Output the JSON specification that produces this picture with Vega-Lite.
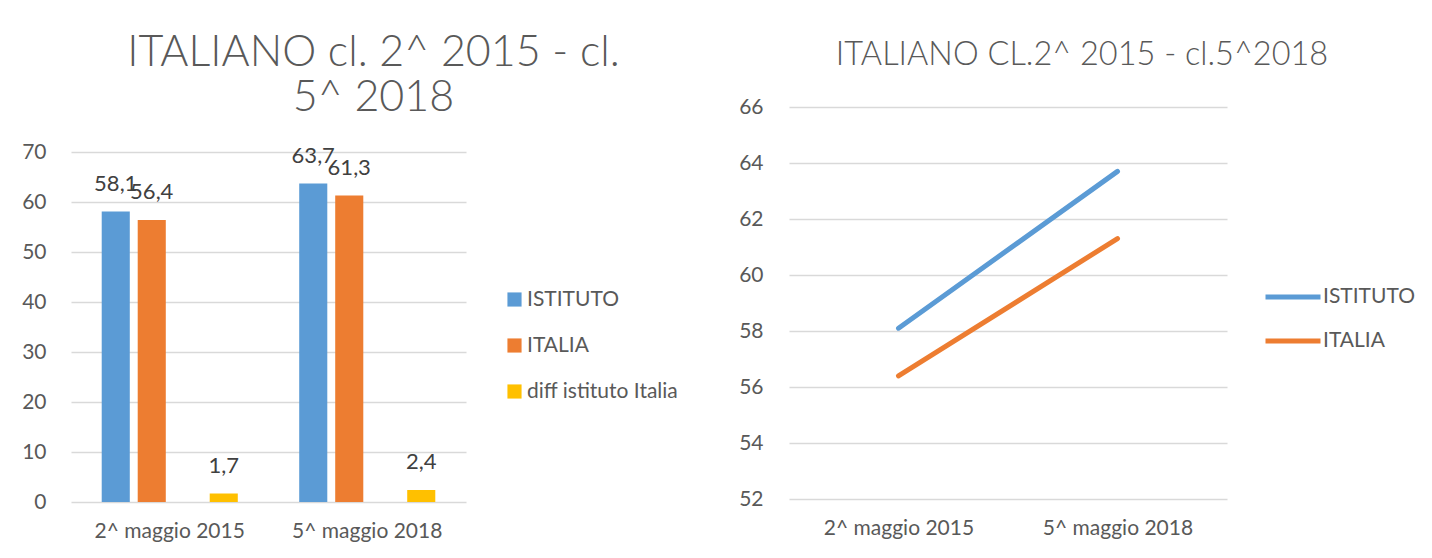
{
  "$schema": "https://vega.github.io/schema/vega-lite/v6.json",
  "padding": {"left": 21, "top": 32, "right": 5, "bottom": 5},
  "background": "white",
  "spacing": 59,
  "config": {
    "font": "Lato",
    "locale": {"number": {"decimal": ",", "thousands": ".", "grouping": [3], "currency": ["€", ""]}},
    "view": {"stroke": null},
    "axis": {"labelColor": "#595959", "labelFontSize": 21, "labelFont": "Lato", "gridColor": "#D9D9D9", "gridWidth": 1.3, "domain": false, "ticks": false, "title": null},
    "legend": {"labelColor": "#595959", "labelFontSize": 21, "labelFont": "Lato", "title": null, "padding": 0},
    "title": {"color": "#595959", "font": "Lato", "fontWeight": 300}
  },
  "resolve": {"scale": {"color": "independent"}, "legend": {"color": "independent"}},
  "hconcat": [
    {
      "width": 395,
      "height": 395,
      "title": {"text": ["ITALIANO cl. 2^ 2015 - cl.", "5^ 2018"], "fontSize": 43, "lineHeight": 45, "offset": 0, "dy": 13, "dx": 105},
      "data": {"values": [
        {"periodo": "2^ maggio 2015", "serie": "ISTITUTO", "valore": 58.1},
        {"periodo": "2^ maggio 2015", "serie": "ITALIA", "valore": 56.4},
        {"periodo": "2^ maggio 2015", "serie": "diff istituto Italia", "valore": 1.7},
        {"periodo": "5^ maggio 2018", "serie": "ISTITUTO", "valore": 63.7},
        {"periodo": "5^ maggio 2018", "serie": "ITALIA", "valore": 61.3},
        {"periodo": "5^ maggio 2018", "serie": "diff istituto Italia", "valore": 2.4}
      ]},
      "encoding": {
        "x": {"field": "periodo", "type": "nominal", "scale": {"paddingInner": 0.311, "paddingOuter": 0.1555}, "axis": {"labelAngle": 0, "labelPadding": 18, "grid": false}},
        "xOffset": {"field": "serie", "type": "nominal", "scale": {"domain": ["ISTITUTO", "ITALIA", "_", "diff istituto Italia"], "paddingInner": 0.22, "paddingOuter": 0}},
        "y": {"field": "valore", "type": "quantitative", "scale": {"domain": [0, 79], "nice": false}, "axis": {"values": [0, 10, 20, 30, 40, 50, 60, 70], "labelPadding": 25, "format": "d"}}
      },
      "layer": [
        {
          "mark": {"type": "bar"},
          "encoding": {
            "color": {"field": "serie", "type": "nominal", "scale": {"domain": ["ISTITUTO", "ITALIA", "diff istituto Italia"], "range": ["#5B9BD5", "#ED7D31", "#FFC000"]},
              "legend": {"orient": "none", "legendX": 433, "legendY": 182, "symbolType": "square", "symbolSize": 200, "rowPadding": 24, "labelOffset": 2}}
          }
        },
        {
          "mark": {"type": "text", "baseline": "bottom", "dy": -16, "fontSize": 22, "color": "#404040"},
          "encoding": {"text": {"field": "valore", "type": "quantitative", "format": ".1f"}}
        }
      ]
    },
    {
      "width": 438,
      "height": 392,
      "title": {"text": "ITALIANO CL.2^ 2015 - cl.5^2018", "fontSize": 32.5, "offset": 25, "dx": 74},
      "data": {"values": [
        {"periodo": "2^ maggio 2015", "serie": "ISTITUTO", "valore": 58.1},
        {"periodo": "5^ maggio 2018", "serie": "ISTITUTO", "valore": 63.7},
        {"periodo": "2^ maggio 2015", "serie": "ITALIA", "valore": 56.4},
        {"periodo": "5^ maggio 2018", "serie": "ITALIA", "valore": 61.3}
      ]},
      "mark": {"type": "line", "strokeWidth": 5, "strokeCap": "round"},
      "encoding": {
        "x": {"field": "periodo", "type": "nominal", "scale": {"type": "point", "padding": 0.5}, "axis": {"labelAngle": 0, "labelPadding": 18, "grid": false}},
        "y": {"field": "valore", "type": "quantitative", "scale": {"domain": [52, 66], "nice": false, "zero": false}, "axis": {"values": [52, 54, 56, 58, 60, 62, 64, 66], "labelPadding": 26}},
        "color": {"field": "serie", "type": "nominal", "scale": {"domain": ["ISTITUTO", "ITALIA"], "range": ["#5B9BD5", "#ED7D31"]},
          "legend": {"orient": "none", "legendX": 474, "legendY": 160, "symbolType": "stroke", "symbolSize": 3025, "symbolStrokeWidth": 5, "rowPadding": 4, "labelOffset": 0}}
      }
    }
  ]
}
